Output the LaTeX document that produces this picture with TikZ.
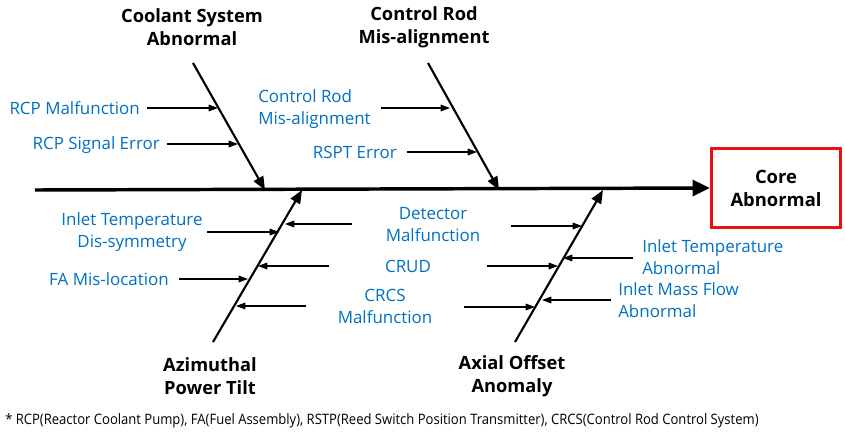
\documentclass[tikz,border=0pt]{standalone}
\usepackage{fontspec}
\setmainfont{Open Sans}
\usetikzlibrary{arrows.meta}
\definecolor{lblue}{RGB}{0,112,192}
\definecolor{bred}{RGB}{232,16,16}
\begin{document}
\begin{tikzpicture}[x=0.75pt,y=-0.75pt,
 cause/.style={text=lblue, font=\fontsize{12.7}{16.5}\selectfont, inner sep=0pt},
 cat/.style={font=\bfseries\fontsize{13.7}{17.2}\selectfont, align=center, inner sep=0pt},
 spine/.style={line width=2.6pt, -{Triangle[length=13pt,width=12pt]}},
 bone/.style={line width=1.6pt, -{Triangle[length=10pt,width=8pt]}},
 sub/.style={line width=0.8pt, -{Triangle[length=7pt,width=5pt]}}]
\useasboundingbox (0,0) rectangle (845,433);

% effect box
\node[draw=bred, line width=2.2pt, minimum width=97pt, minimum height=59pt,
      font=\bfseries\fontsize{13.8}{17.2}\selectfont, align=center] (core) at (776,188) {Core\\Abnormal};

% spine
\coordinate (sp0) at (35,190);
\draw[spine] (sp0) -- (core.west);

% category labels
\node[cat] (c1) at (192,27) {Coolant System\\Abnormal};
\node[cat] (c2) at (424,27) {Control Rod\\Mis-alignment};
\node[cat] (c3) at (210,376) {Azimuthal\\Power Tilt};
\node[cat] (c4) at (512,376) {Axial Offset\\Anomaly};

% bones
\coordinate (b1s) at (193,63);  \coordinate (b1e) at (265,190);
\coordinate (b2s) at (428,63);  \coordinate (b2e) at (499,190);
\coordinate (b3s) at (213,342); \coordinate (b3e) at (302,190);
\coordinate (b4s) at (515,342); \coordinate (b4e) at (603,190);
\draw[bone] (b1s) -- (b1e);
\draw[bone] (b2s) -- (b2e);
\draw[bone] (b3s) -- (b3e);
\draw[bone] (b4s) -- (b4e);

% causes
\node[cause, anchor=east] (t1) at (140,108) {RCP Malfunction};
\node[cause, anchor=east] (t2) at (160,145) {RCP Signal Error};
\node[cause, anchor=west, align=left] (t3) at (258,109) {Control Rod\\Mis-alignment};
\node[cause, anchor=east] (t4) at (397,152) {RSPT Error};
\node[cause, align=center] (t5) at (132,232) {Inlet Temperature\\Dis-symmetry};
\node[cause, anchor=east] (t6) at (169,279) {FA Mis-location};
\node[cause, align=center] (t7) at (433,225) {Detector\\Malfunction};
\node[cause] (t8) at (408,266) {CRUD};
\node[cause, align=center] (t9) at (385,306) {CRCS\\Malfunction};
\node[cause, anchor=west, align=left] (t10) at (642,257) {Inlet Temperature\\Abnormal};
\node[cause, anchor=west, align=left] (t11) at (618,300) {Inlet Mass Flow\\Abnormal};

% sub arrows
\coordinate (a1s) at (147,108); \coordinate (a1e) at (218,108);
\coordinate (a2s) at (167,144); \coordinate (a2e) at (238,144);
\coordinate (a3s) at (381,108); \coordinate (a3e) at (450,108);
\coordinate (a4s) at (407,152); \coordinate (a4e) at (477,152);
\coordinate (a5s) at (207,232); \coordinate (a5e) at (279,232);
\coordinate (a6s) at (179,279); \coordinate (a6e) at (248,279);
\coordinate (a7s) at (352,224); \coordinate (a7e) at (285,224);
\coordinate (a8s) at (329,266); \coordinate (a8e) at (258,266);
\coordinate (a9s) at (306,306); \coordinate (a9e) at (236,306);
\coordinate (a10s) at (511,226); \coordinate (a10e) at (582,226);
\coordinate (a11s) at (487,266); \coordinate (a11e) at (558,266);
\coordinate (a12s) at (464,307); \coordinate (a12e) at (535,307);
\coordinate (a13s) at (633,258); \coordinate (a13e) at (563,258);
\coordinate (a14s) at (611,300); \coordinate (a14e) at (542,300);
\foreach \i in {1,...,14} {\draw[sub] (a\i s) -- (a\i e);}

% footnote
\node[anchor=base west, inner sep=0pt, font=\fontsize{10}{12}\selectfont] (fn) at (5,424)
 {\resizebox{565pt}{8.2pt}{* RCP(Reactor Coolant Pump), FA(Fuel Assembly), RSTP(Reed Switch Position Transmitter), CRCS(Control Rod Control System)}};
\end{tikzpicture}
\end{document}
